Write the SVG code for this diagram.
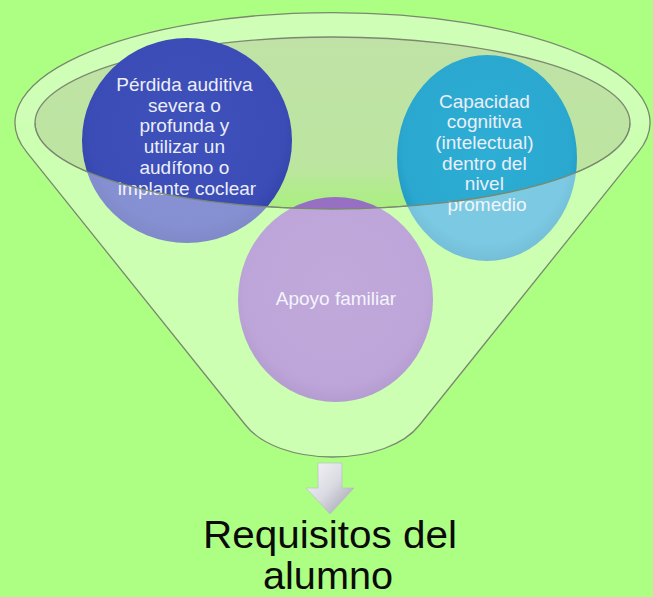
<svg xmlns="http://www.w3.org/2000/svg" width="653" height="597" viewBox="0 0 653 597">
  <defs>
    <linearGradient id="gInner" x1="0" y1="0" x2="0" y2="1">
      <stop offset="0" stop-color="#c0e2a6"/>
      <stop offset="0.75" stop-color="#bce5a0"/>
      <stop offset="1" stop-color="#a9f07f"/>
    </linearGradient>
    <radialGradient id="gBlue" cx="0.5" cy="0.45" r="0.55">
      <stop offset="0" stop-color="#3f51ba"/>
      <stop offset="0.85" stop-color="#3b4cb6"/>
      <stop offset="1" stop-color="#3343a8"/>
    </radialGradient>
    <radialGradient id="gCyan" cx="0.5" cy="0.45" r="0.55">
      <stop offset="0" stop-color="#2eaed4"/>
      <stop offset="0.85" stop-color="#2aa8d0"/>
      <stop offset="1" stop-color="#2296c0"/>
    </radialGradient>
    <radialGradient id="gPurple" cx="0.5" cy="0.45" r="0.55">
      <stop offset="0" stop-color="#9a74c6"/>
      <stop offset="0.85" stop-color="#966fc2"/>
      <stop offset="1" stop-color="#8660b4"/>
    </radialGradient>
    <linearGradient id="gArrow" x1="0" y1="0" x2="1" y2="1">
      <stop offset="0" stop-color="#f6f6fa"/>
      <stop offset="0.5" stop-color="#dadae2"/>
      <stop offset="1" stop-color="#9c9cac"/>
    </linearGradient>
    <style>
      .edge { fill: none; stroke: #7b8870; stroke-width: 1.3; }
      .ctext { font-family: "Liberation Sans", Arial, sans-serif; font-size: 19px; fill: #eceef8; text-anchor: middle; }
      .big { font-family: "Liberation Sans", Arial, sans-serif; font-size: 39px; fill: #0a0a0a; text-anchor: middle; }
    </style>
  </defs>

  <rect x="0" y="0" width="653" height="597" fill="#adff84"/>

  <g id="funnel-back">
    <path d="M 15,123 A 317.5 110 0 0 1 650,123 L 630,123 A 297.5 86 0 0 0 35,123 Z" fill="#ffffff" fill-opacity="0.42"/>
    <ellipse cx="332.5" cy="123" rx="297.5" ry="86" class="edge" style="fill:url(#gInner)"/>
  </g>

  <g id="node-perdida">
    <ellipse cx="187" cy="140.5" rx="105" ry="102.5" fill="url(#gBlue)"/>
    <text class="ctext">
      <tspan x="187" y="91">Pérdida auditiva</tspan>
      <tspan x="187" y="111.7">severa o</tspan>
      <tspan x="187" y="132.4">profunda y</tspan>
      <tspan x="187" y="153.1">utilizar un</tspan>
      <tspan x="187" y="173.8">audífono o</tspan>
      <tspan x="187" y="194.5">implante coclear</tspan>
    </text>
  </g>

  <g id="node-capacidad">
    <ellipse cx="487" cy="158" rx="90" ry="103" fill="url(#gCyan)"/>
    <text class="ctext">
      <tspan x="487" y="107.5">Capacidad</tspan>
      <tspan x="487" y="128.2">cognitiva</tspan>
      <tspan x="487" y="148.9">(intelectual)</tspan>
      <tspan x="487" y="169.6">dentro del</tspan>
      <tspan x="487" y="190.3">nivel</tspan>
      <tspan x="487" y="211">promedio</tspan>
    </text>
  </g>

  <g id="node-apoyo">
    <ellipse cx="335.5" cy="299.5" rx="97.5" ry="102.5" fill="url(#gPurple)"/>
    <text class="ctext" x="336" y="305">Apoyo familiar</text>
  </g>

  <g id="funnel-front">
    <path d="M 15,123 A 317.5 110 0 0 0 26.9,152.4 L 245.5,425 C 261,445 295,457 332.5,457 C 370,457 404,445 419.5,425 L 638.1,152.4 A 317.5 110 0 0 0 650,123 L 630,123 A 297.5 86 0 0 1 332.5,209 A 297.5 86 0 0 1 35,123 Z" fill="#ffffff" fill-opacity="0.38"/>
    <path class="edge" d="M 630,123 A 297.5 86 0 0 1 332.5,209 A 297.5 86 0 0 1 35,123"/>
    <path class="edge" d="M 26.9,152.4 A 317.5 110 0 1 1 638.1,152.4 L 419.5,425 C 404,445 370,457 332.5,457 C 295,457 261,445 245.5,425 Z"/>
  </g>

  <g id="connectors">
    <path d="M 318,463 L 342,463 L 342,488 L 354,488 L 330,514 L 306,488 L 318,488 Z" fill="url(#gArrow)" stroke="#b8b8c6" stroke-width="0.6"/>
  </g>

  <g id="node-requisitos">
    <text class="big" x="330" y="548" textLength="254" lengthAdjust="spacingAndGlyphs">Requisitos del</text>
    <text class="big" x="328" y="589" textLength="130" lengthAdjust="spacingAndGlyphs">alumno</text>
  </g>
</svg>
